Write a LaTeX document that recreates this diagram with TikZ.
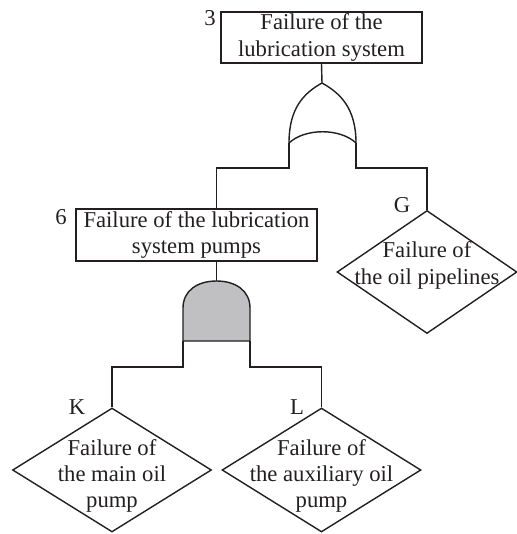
\documentclass[tikz,border=0pt]{standalone}
\usepackage{fontspec}
\setmainfont{Liberation Serif}
\usepackage{tikz}
\usetikzlibrary{shapes.geometric}
\definecolor{ftline}{HTML}{231F20}
\definecolor{gatefill}{HTML}{C0C0C2}
\newcommand\ftfont{\fontsize{12.9}{15}\selectfont}
\tikzset{
  event/.style={rectangle,draw=ftline,line width=0.8pt,inner sep=0pt,align=center,font=\ftfont,text=ftline},
  basic/.style={diamond,draw=ftline,line width=0.8pt,inner sep=0pt},
  evtext/.style={align=center,font=\ftfont,text=ftline,inner sep=0pt},
  lbl/.style={font=\ftfont,text=ftline,inner sep=0pt},
  wire/.style={draw=ftline,line width=0.8pt},
  gate/.style={draw=ftline,line width=0.8pt,line join=round},
}

\begin{document}
\begin{tikzpicture}[x=0.02cm,y=-0.02cm]
  \useasboundingbox (0,0) rectangle (517,534);
  % events
  \node[event,minimum width=4.02cm,minimum height=1.02cm] (ev3) at (321.5,37.5) {Failure of the\\lubrication system};
  \node[event,minimum width=4.82cm,minimum height=1.04cm] (ev6) at (196.5,235) {Failure of the lubrication\\system pumps};
  \node[basic,minimum width=3.6cm,minimum height=2.46cm,
        label={[evtext,yshift=3.7pt]center:{Failure of\\the oil pipelines}}] (evG) at (427,272) {};
  \node[basic,minimum width=3.98cm,minimum height=2.48cm,
        label={[evtext,yshift=-3.4pt]center:{Failure of\\the main oil\\pump}}] (evK) at (112,470) {};
  \node[basic,minimum width=3.98cm,minimum height=2.48cm,
        label={[evtext,yshift=-3.4pt]center:{Failure of\\the auxiliary oil\\pump}}] (evL) at (321.5,470) {};
  % numbers and letters
  \node[lbl] (n3) at (210,18) {3};
  \node[lbl] (n6) at (61,217) {6};
  \node[lbl] (nG) at (402,205) {G};
  \node[lbl] (nK) at (77,407) {K};
  \node[lbl] (nL) at (297,407) {L};
  % OR gate
  \coordinate (orout) at (322,83);
  \coordinate (orL) at (289,143);
  \coordinate (orR) at (356,143);
  \draw[gate] (orL) .. controls (289,108) and (304,93) .. (orout)
    .. controls (340,93) and (356,108) .. (orR)
    .. controls (340,128) and (305,128) .. cycle;
  % AND gate
  \coordinate (andout) at (216.5,281);
  \coordinate (andL) at (183,341);
  \coordinate (andR) at (250,341);
  \draw[gate,fill=gatefill] (andL) -- (183,308) .. controls (183,291) and (197,281) .. (andout)
    .. controls (236,281) and (250,291) .. (250,308) -- (andR) -- cycle;
  % connectors
  \draw[wire] (ev3.south) -- (orout);
  \draw[wire] (orL) -- ++(0,25) -| (ev6.north -| andout);
  \draw[wire] (orR) -- ++(0,25) -| (evG.north);
  \draw[wire] (ev6.south -| andout) -- (andout);
  \draw[wire] (andL) -- ++(0,26) -| (evK.north);
  \draw[wire] (andR) -- ++(0,26) -| (evL.north);
\end{tikzpicture}
\end{document}
